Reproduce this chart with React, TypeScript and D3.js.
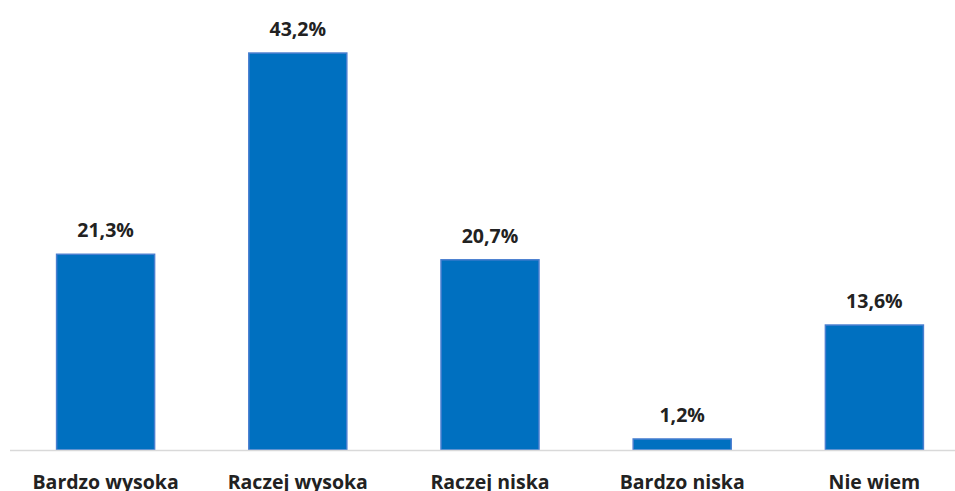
import React from 'react'
import * as d3 from 'd3'

// values (percent)
const categories = ['Bardzo wysoka', 'Raczej wysoka', 'Raczej niska', 'Bardzo niska', 'Nie wiem']
const values = [21.3, 43.2, 20.7, 1.2, 13.6]
const valueLabels = ['21,3%', '43,2%', '20,7%', '1,2%', '13,6%']

const W = 955, H = 491
const baseY = 450
const font = '"Open Sans", "Liberation Sans", sans-serif'

export default function App() {
  const x = d3.scaleBand<string>().domain(categories).range([9.5, 970.5])
    .paddingInner(0.49).paddingOuter(0.245)
  const y = d3.scaleLinear().domain([0, 45]).range([baseY, 36.5])

  return (
    <svg width={W} height={H} style={{position: 'absolute', left: 0, top: 0, background: '#fff'}}>
      {categories.map((c, i) => (
        <g key={c}>
          <rect x={x(c)} y={y(values[i])} width={x.bandwidth()} height={baseY - y(values[i])}
            fill="#0070C0" stroke="#4a7fd0" strokeWidth={1.5} />
          <text x={(x(c) as number) + x.bandwidth() / 2} y={y(values[i]) - 17}
            textAnchor="middle" fontFamily={font} fontWeight="bold" fontSize={19.5} fill="#222">
            {valueLabels[i]}
          </text>
          <text x={(x(c) as number) + x.bandwidth() / 2} y={489}
            textAnchor="middle" fontFamily={font} fontWeight="bold" fontSize={19.5} fill="#222">
            {c}
          </text>
        </g>
      ))}
      {/* baseline */}
      <line x1={10} x2={W} y1={baseY + 0.5} y2={baseY + 0.5} stroke="#d9d9d9" strokeWidth={1.5} />
    </svg>
  )
}
